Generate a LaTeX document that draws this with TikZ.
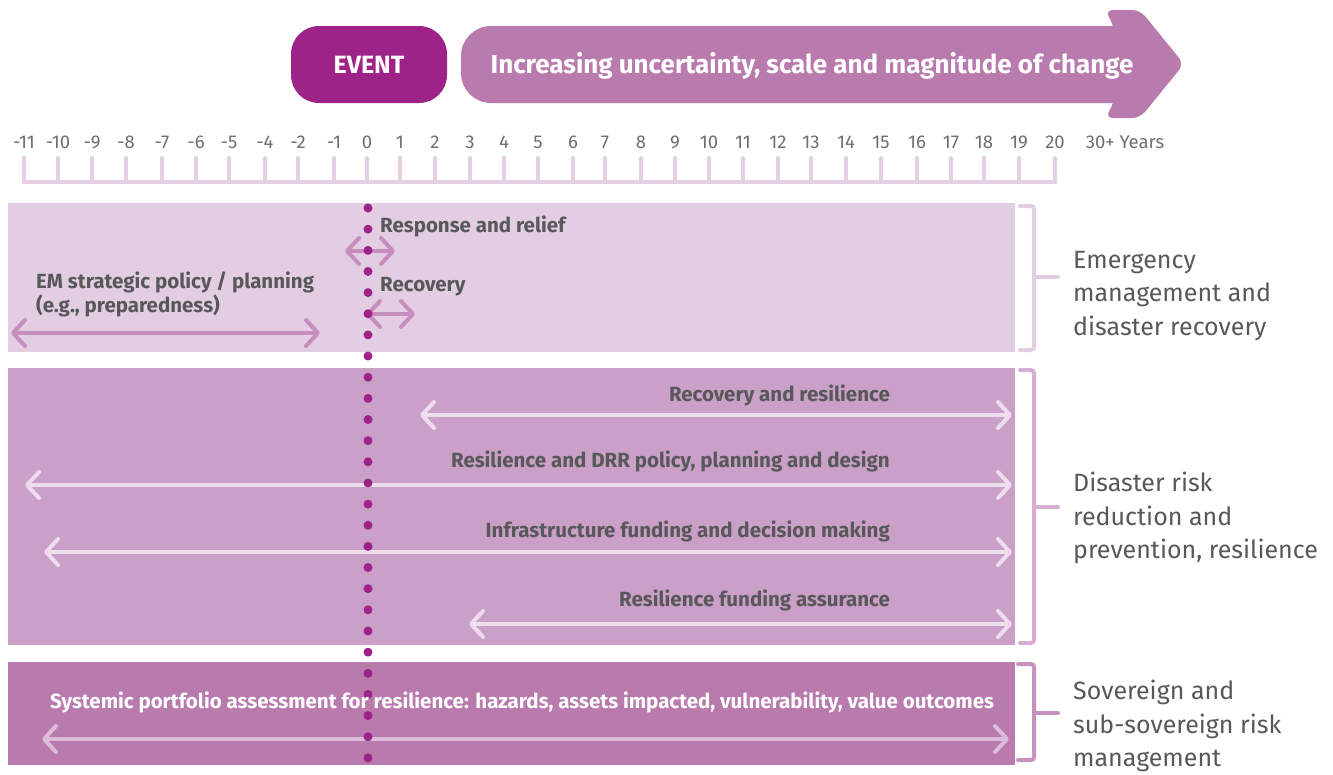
\documentclass[tikz,border=0pt]{standalone}
\usepackage{fontspec}
\setmainfont{Fira Sans}
\usetikzlibrary{arrows.meta}
\definecolor{eventcol}{HTML}{9E2389}
\definecolor{trendcol}{HTML}{B97AAE}
\definecolor{bandA}{HTML}{E3CDE2}
\definecolor{bandB}{HTML}{CA9FC8}
\definecolor{bandC}{HTML}{B97AAE}
\definecolor{axiscol}{HTML}{E5D0E3}
\definecolor{arrowA}{HTML}{C78DBF}
\definecolor{arrowB}{HTML}{EEDDED}
\definecolor{arrowC}{HTML}{DCBCD8}
\definecolor{braceB}{HTML}{D7ADD2}
\definecolor{braceC}{HTML}{C892BF}
\definecolor{textgray}{HTML}{58585A}
\definecolor{tickgray}{HTML}{6D6E70}
\begin{document}
\begin{tikzpicture}[x=1pt,y=-1pt,
  line cap=round,
  item label/.style={font=\fontsize{20.5}{24}\selectfont\bfseries,text=textgray,inner sep=0pt},
  group label/.style={font=\fontsize{25}{33.5}\selectfont,text=textgray,align=left,anchor=west,inner sep=0pt},
  year label/.style={font=\fontsize{18.5}{20}\selectfont,text=tickgray,anchor=base,inner sep=0pt},
  span/.style={line width=4pt,{Straight Barb[length=12pt,width=26pt,round]}-{Straight Barb[length=12pt,width=26pt,round]}},
  bracket/.style={line width=4pt,rounded corners=3pt}]

  \useasboundingbox (0,0) rectangle (1333,774);

  % header
  \node[fill=eventcol,rounded corners=28pt,minimum width=156pt,minimum height=77pt,
    text=white,font=\fontsize{25}{27}\selectfont\bfseries] (event) at (369,64.5) {EVENT};
  \fill[trendcol,rounded corners=30pt] (461,26) rectangle (1150,103);
  \fill[trendcol,rounded corners=8pt] (1114,26) -- (1105,10) -- (1140,10) -- (1184,64)
    -- (1140,118) -- (1105,118) -- (1114,103) -- cycle;
  \node[text=white,font=\fontsize{26}{28}\selectfont\bfseries] (trend) at (812,66)
    {Increasing uncertainty, scale and magnitude of change};

  % time axis
  \draw[axiscol,line width=4pt] (24,182) -- (1055,182);
  \foreach \x/\lab in {24/-11,58/-10,92/-9,126/-8,162/-7,196/-6,229/-5,265/-4,298/-2,
      334/-1,367/0,400/1,435/2,470/3,504/4,538/5,573/6,605/7,641/8,675/9,709/10,743/11,
      778/12,811/13,846/14,881/15,917/16,951/17,984/18,1019/19,1055/20}{
    \draw[axiscol,line width=4pt] (\x,158) -- (\x,182);
    \node[year label] (y\lab) at (\x,148) {\lab};
  }
  \node[year label] (y30) at (1125,148) {30+ Years};

  % bands
  \fill[bandA] (8,203) rectangle (1015,352);
  \fill[bandB] (8,368) rectangle (1015,645);
  \fill[bandC] (8,662) rectangle (1015,765);

  % emergency management
  \coordinate (rel-l) at (345,251);
  \coordinate (rel-r) at (395,251);
  \coordinate (rec-l) at (366,314);
  \coordinate (rec-r) at (415,314);
  \coordinate (em-l) at (11,333);
  \coordinate (em-r) at (320,333);
  \draw[span,arrowA] (rel-l) -- (rel-r);
  \draw[span,arrowA] (rec-l) -- (rec-r);
  \draw[span,arrowA] (em-l) -- (em-r);
  \node[item label,anchor=west] (relief) at (380,226) {Response and relief};
  \node[item label,anchor=west] (recovery) at (380,287) {Recovery};
  \node[item label,anchor=west,align=left] (emplan) at (36,294)
    {EM strategic policy / planning\\(e.g., preparedness)};

  % disaster risk reduction
  \coordinate (rr-l) at (420,415);
  \coordinate (rr-r) at (1012,415);
  \coordinate (drr-l) at (25,485);
  \coordinate (drr-r) at (1012,485);
  \coordinate (inf-l) at (44,552);
  \coordinate (inf-r) at (1012,552);
  \coordinate (fa-l) at (469,624);
  \coordinate (fa-r) at (1012,624);
  \draw[span,arrowB] (rr-l) -- (rr-r);
  \draw[span,arrowB] (drr-l) -- (drr-r);
  \draw[span,arrowB] (inf-l) -- (inf-r);
  \draw[span,arrowB] (fa-l) -- (fa-r);
  \node[item label,anchor=east] (rrtext) at (890,395) {Recovery and resilience};
  \node[item label,anchor=east] (drrtext) at (890,461) {Resilience and DRR policy, planning and design};
  \node[item label,anchor=east] (inftext) at (890,531) {Infrastructure funding and decision making};
  \node[item label,anchor=east] (fatext) at (890,600) {Resilience funding assurance};

  % sovereign risk
  \coordinate (sp-l) at (42,739);
  \coordinate (sp-r) at (1009,739);
  \draw[span,arrowC] (sp-l) -- (sp-r);

  % event line
  \foreach \k in {0,...,26}
    \fill[eventcol] (368,{208+\k*21.15}) circle (4.5pt);

  \node[item label,text=white] (sptext) at (522,702)
    {Systemic portfolio assessment for resilience: hazards, assets impacted, vulnerability, value outcomes};

  % brackets
  \draw[bracket,bandA] (1020,206) -- (1034,206) -- (1034,350) -- (1020,350);
  \draw[bracket,bandA] (1034,277) -- (1058,277);
  \draw[bracket,braceB] (1020,370) -- (1034,370) -- (1034,643) -- (1020,643);
  \draw[bracket,braceB] (1034,507) -- (1058,507);
  \draw[bracket,braceC] (1018,664) -- (1034,664) -- (1034,760) -- (1018,760);
  \draw[bracket,braceC] (1034,713) -- (1058,713);

  \node[group label] (emgroup) at (1073,296) {Emergency\\management and\\disaster recovery};
  \node[group label] (drrgroup) at (1073,518) {Disaster risk\\reduction and\\prevention, resilience};
  \node[group label] (sovgroup) at (1073,726) {Sovereign and\\sub-sovereign risk\\management};
\end{tikzpicture}
\end{document}
